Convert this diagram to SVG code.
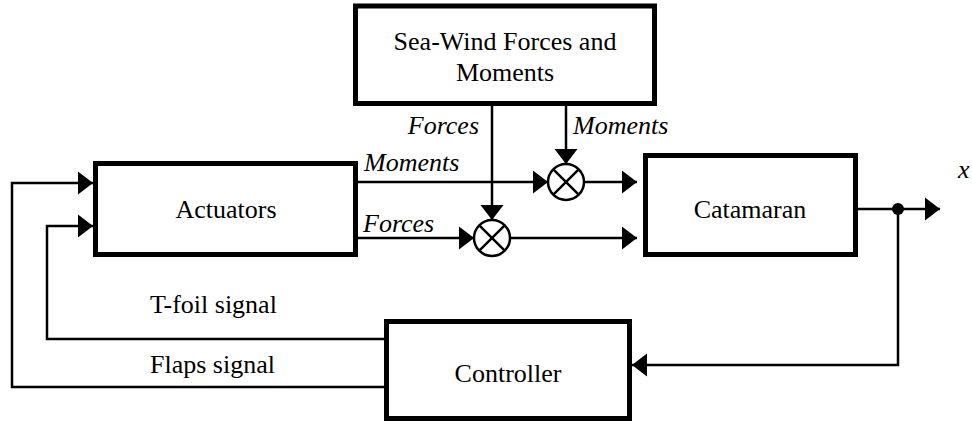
<svg xmlns="http://www.w3.org/2000/svg" width="972" height="427" viewBox="0 0 972 427">
<style>
.box{fill:#fff;stroke:#000;stroke-width:5}
.ln{fill:none;stroke:#000;stroke-width:2.5}
.t{font-family:"Liberation Serif","Times New Roman",serif;font-size:26px;fill:#000}
.i{font-style:italic}
</style>
<defs>
<marker id="ah" markerUnits="userSpaceOnUse" markerWidth="16" markerHeight="24" refX="15" refY="11.5" orient="auto" overflow="visible">
<path d="M0,0 L15,11.5 L0,23 Z" fill="#000"/>
</marker>
</defs>
<rect width="972" height="427" fill="#fff"/>
<g id="connectors">
<path class="ln" d="M492,106 V220" marker-end="url(#ah)"/>
<path class="ln" d="M566,106 V164" marker-end="url(#ah)"/>
<path class="ln" d="M358,182 H548" marker-end="url(#ah)"/>
<path class="ln" d="M358,238 H474" marker-end="url(#ah)"/>
<path class="ln" d="M584,182 H637" marker-end="url(#ah)"/>
<path class="ln" d="M510,238 H637" marker-end="url(#ah)"/>
<path class="ln" d="M858,209 H940" marker-end="url(#ah)"/>
<path class="ln" d="M898,209 V365 H632" marker-end="url(#ah)"/>
<circle cx="898" cy="209" r="6" fill="#000"/>
<path class="ln" d="M384,339 H47 V226 H93" marker-end="url(#ah)"/>
<path class="ln" d="M384,387 H12 V183 H93" marker-end="url(#ah)"/>
<text class="t i" x="479" y="134" text-anchor="end">Forces</text>
<text class="t i" x="573" y="134">Moments</text>
<text class="t i" x="364" y="171">Moments</text>
<text class="t i" x="363" y="232">Forces</text>
<text class="t i" x="958" y="178">x</text>
<text class="t" x="150" y="313">T-foil signal</text>
<text class="t" x="150" y="373">Flaps signal</text>
</g>
<g id="mult-moments">
<circle class="ln" cx="566" cy="182" r="18" fill="#fff"/>
<path class="ln" d="M553.3,169.3 L578.7,194.7 M578.7,169.3 L553.3,194.7"/>
</g>
<g id="mult-forces">
<circle class="ln" cx="492" cy="238" r="18" fill="#fff"/>
<path class="ln" d="M479.3,225.3 L504.7,250.7 M504.7,225.3 L479.3,250.7"/>
</g>
<g id="seawind">
<rect class="box" x="355.5" y="6" width="299" height="97.5"/>
<text class="t" x="505" y="50" text-anchor="middle">Sea-Wind Forces and</text>
<text class="t" x="505" y="81" text-anchor="middle">Moments</text>
</g>
<g id="actuators">
<rect class="box" x="95.5" y="163.5" width="260" height="91"/>
<text class="t" x="226" y="218" text-anchor="middle">Actuators</text>
</g>
<g id="catamaran">
<rect class="box" x="645.5" y="155.5" width="210" height="99"/>
<text class="t" x="750" y="218" text-anchor="middle">Catamaran</text>
</g>
<g id="controller">
<rect class="box" x="386.5" y="321.5" width="243" height="97"/>
<text class="t" x="508" y="382" text-anchor="middle">Controller</text>
</g>
</svg>
